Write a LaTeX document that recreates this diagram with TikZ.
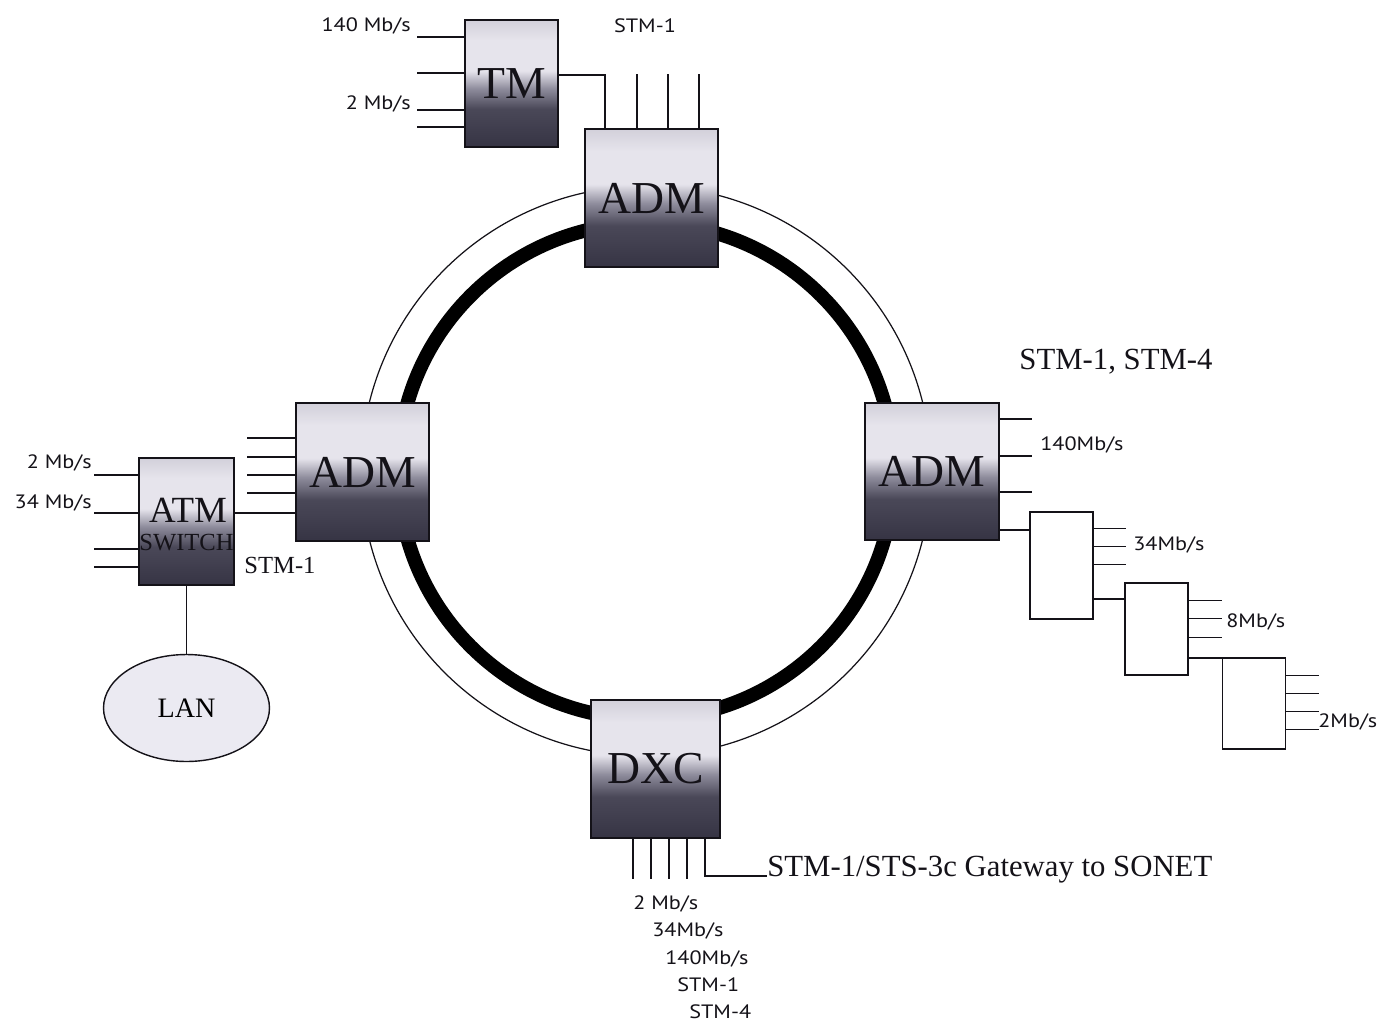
\documentclass[tikz,border=0pt]{standalone}
\usepackage{fontspec}
\setmainfont{Liberation Serif}
\newfontfamily\ratefont[FakeStretch=1.15]{PT Sans}
\usetikzlibrary{
  calc,
  shapes.geometric
}
\definecolor{inkC}{HTML}{141218}
\definecolor{boxTopC}{HTML}{D2D0DA}
\definecolor{boxHiC}{HTML}{E6E4EC}
\definecolor{boxMidC}{HTML}{8E8C9C}
\definecolor{boxLowC}{HTML}{4A4858}
\definecolor{boxBotC}{HTML}{363444}
\definecolor{lanC}{HTML}{EBEAF2}
\pgfdeclareverticalshading{boxshade}{100bp}{color(0bp)=(boxBotC);
  color(25bp)=(boxBotC); color(40bp)=(boxLowC); color(48bp)=(boxMidC);
  color(55bp)=(boxHiC); color(67bp)=(boxHiC); color(75bp)=(boxTopC);
  color(100bp)=(boxTopC)}
\newcommand\bigfont{\fontsize{26}{28}\selectfont}

\begin{document}
\begin{tikzpicture}[
  x=0.02cm,
  y=-0.02cm,
  nebox/.style={draw=inkC, line width=1pt, shading=boxshade, inner sep=0pt,
    font=\bigfont, text=inkC},
  muxbox/.style={draw=inkC, line width=0.9pt, fill=white, inner sep=0pt,
    minimum width=1.26cm},
  pin/.style={inkC, line width=0.75pt},
  rate/.style={font=\ratefont\fontsize{11}{12}\selectfont, inner sep=0pt,
    text=inkC},
  tag/.style={inner sep=0pt, text=inkC}
]

\useasboundingbox (0,0) rectangle (1384,1022);

% Ring: thin outer fibre and heavy inner fibre.
\coordinate (ringC) at (646,471);
\draw[inkC, line width=0.7pt] (ringC) circle (5.7cm);
\draw[black, line width=0.28cm] (ringC) circle (4.96cm);

% Network elements.
\node[nebox, minimum width=1.86cm, minimum height=2.54cm] (tm) at (511.5,83.5) {TM};
\node[nebox, minimum width=2.66cm, minimum height=2.76cm] (admT) at (651.5,198) {ADM};
\node[nebox, minimum width=2.66cm, minimum height=2.76cm] (admL) at (362.5,472) {ADM};
\node[nebox, minimum width=2.68cm, minimum height=2.74cm] (admR) at (932,471.5) {ADM};
\node[nebox, minimum width=2.58cm, minimum height=2.76cm] (dxc) at (655.5,769) {DXC};
\node[nebox, minimum width=1.90cm, minimum height=2.54cm] (atm) at (186.5,521.5) {};
\node[tag, font=\fontsize{21}{22}\selectfont] (atmA) at (188,510) {ATM};
\node[tag, font=\fontsize{14}{15}\selectfont] (atmS) at (186.5,543) {SWITCH};
\node[ellipse, draw=inkC, fill=lanC, line width=0.8pt, minimum width=3.32cm,
  minimum height=2.14cm, font=\fontsize{16}{18}\selectfont] (lan) at (186.5,708) {LAN};

% Demultiplexer chain.
\node[muxbox, minimum height=2.14cm] (mux1) at (1061.5,565.5) {};
\node[muxbox, minimum height=1.84cm] (mux2) at (1156.5,629) {};
\node[muxbox, minimum height=1.82cm] (mux3) at (1254,703.5) {};

% TM tributaries and uplink.
\foreach \dy in {18,54,91,108}{
  \draw[pin] ($(tm.north west)+(0,\dy)$) -- ++(-47,0);
}
\draw[pin] (tm.east |- 0,75) -| (admT.north west -| 605,0);
\foreach \x in {637,668,699}{
  \draw[pin] (admT.north west -| \x,0) -- ++(0,-54);
}

% West side: ATM switch.
\foreach \dy in {36,55,73,91}{
  \draw[pin] ($(admL.north west)+(0,\dy)$) -- ++(-48,0);
}
\draw[pin] (atm.east |- 0,513) -- (admL.west |- 0,513);
\foreach \y in {475,513,549,567}{
  \draw[pin] (atm.west |- 0,\y) -- ++(-44,0);
}
\draw[pin] (atm.south) -- (lan.north);

% East side: ADM into the mux chain.
\foreach \dy in {17,54,90}{
  \draw[pin] ($(admR.north east)+(0,\dy)$) -- ++(32,0);
}
\draw[pin] (admR.east |- 0,530) -- (mux1.west |- 0,530);
\foreach \dy in {17,35,53}{
  \draw[pin] ($(mux1.north east)+(0,\dy)$) -- ++(32,0);
}
\draw[pin] (mux1.east |- 0,599) -- (mux2.west |- 0,599);
\foreach \dy in {18,36,55}{
  \draw[pin] ($(mux2.north east)+(0,\dy)$) -- ++(33,0);
}
\draw[pin] (mux2.east |- 0,658) -- (mux3.west |- 0,658);
\foreach \dy in {18,36,54,72}{
  \draw[pin] ($(mux3.north east)+(0,\dy)$) -- ++(33,0);
}

% South side: DXC ports.
\node[tag, anchor=base west, font=\fontsize{17.5}{19}\selectfont] (gw) at (767,876)
  {STM-1/STS-3c Gateway to SONET};
\foreach \x in {633,651,669,687}{
  \draw[pin] (dxc.south -| \x,0) -- ++(0,40);
}
\draw[pin] (dxc.south -| 705,0) |- (gw.base west);

% Rate labels.
\node[rate, anchor=east] (lTMa) at (411,26) {140 Mb/s};
\node[rate, anchor=east] (lTMb) at (411,104) {2 Mb/s};
\node[rate] (lTop) at (645,26) {STM-1};
\node[rate, anchor=east] (lAtmA) at (92,463) {2 Mb/s};
\node[rate, anchor=east] (lAtmB) at (92,503) {34 Mb/s};
\node[tag, font=\fontsize{14}{16}\selectfont] (lAtmC) at (280,565) {STM-1};
\node[tag, font=\fontsize{17.5}{19}\selectfont] (lAdmR) at (1116,362) {STM-1, STM-4};
\node[rate, anchor=west] (lR1) at (1040,445) {140Mb/s};
\node[rate, anchor=west] (lR2) at (1133,545) {34Mb/s};
\node[rate, anchor=west] (lR3) at (1226,622) {8Mb/s};
\node[rate, anchor=west] (lR4) at (1318,722) {2Mb/s};
\node[rate, anchor=west] (lD1) at (633,904) {2 Mb/s};
\node[rate, anchor=west] (lD2) at (652,931) {34Mb/s};
\node[rate, anchor=west] (lD3) at (665,959) {140Mb/s};
\node[rate, anchor=west] (lD4) at (677,985) {STM-1};
\node[rate, anchor=west] (lD5) at (689,1012) {STM-4};

\end{tikzpicture}
\end{document}
